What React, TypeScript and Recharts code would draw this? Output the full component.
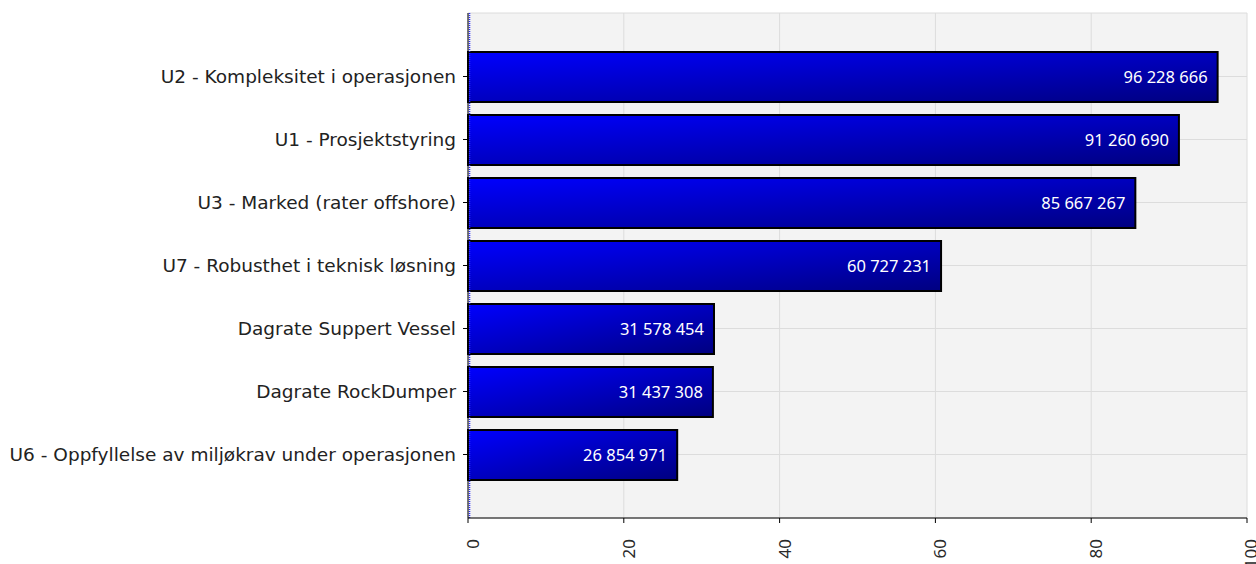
import {
  Bar,
  BarChart,
  CartesianGrid,
  LabelList,
  ReferenceLine,
  XAxis,
  YAxis,
} from "recharts";

// Risk drivers, largest first, with their contribution (NOK)
const categories = [
  "U2 - Kompleksitet i operasjonen",
  "U1 - Prosjektstyring",
  "U3 - Marked (rater offshore)",
  "U7 - Robusthet i teknisk løsning",
  "Dagrate Suppert Vessel",
  "Dagrate RockDumper",
  "U6 - Oppfyllelse av miljøkrav under operasjonen",
];
const values = [96228666, 91260690, 85667267, 60727231, 31578454, 31437308, 26854971];
const xTicks = [0, 20, 40, 60, 80, 100];

const data = categories.map((name, i) => ({
  name,
  raw: values[i],
  mill: values[i] / 1e6,
}));

const formatNok = (v: number) =>
  String(Math.round(v)).replace(/\B(?=(\d{3})+(?!\d))/g, " ");

const LABEL_FONT = "'DejaVu Sans', Verdana, sans-serif";
const VALUE_FONT = "'Noto Sans', Tahoma, sans-serif";

export default function App() {
  return (
    <div style={{ position: "absolute", left: 0, top: 0, background: "#fff" }}>
      <BarChart
        width={1256}
        height={564}
        data={data}
        layout="vertical"
        margin={{ top: 13, right: 9, bottom: 0, left: 0 }}
        barCategoryGap={0}
      >
        <defs>
          <linearGradient id="bar-blue" x1="0" y1="0" x2="1" y2="1">
            <stop offset="0%" stopColor="#0000ff" />
            <stop offset="100%" stopColor="#000080" />
          </linearGradient>
        </defs>
        <CartesianGrid stroke="#dcdcdc" fill="#f3f3f3" />
        <XAxis
          type="number"
          domain={[0, 100]}
          ticks={xTicks}
          height={46}
          stroke="#000"
          tickSize={5}
          angle={-90}
          textAnchor="end"
          tick={{ fontSize: 17, fill: "#2a2a2a", fontFamily: VALUE_FONT, dy: 14, dx: -1 }}
        />
        <YAxis
          type="category"
          dataKey="name"
          width={468}
          stroke="#000"
          tickSize={5}
          tickMargin={7}
          padding={{ top: 32, bottom: 32 }}
          tick={{ fontSize: 18.5, fill: "#222", fontFamily: LABEL_FONT }}
        />
        <ReferenceLine x={0.2} stroke="#2a2aff" strokeWidth={1.5} strokeDasharray="1 1" />
        <Bar
          dataKey="mill"
          barSize={50}
          fill="url(#bar-blue)"
          stroke="#000"
          strokeWidth={2}
          isAnimationActive={false}
        >
          <LabelList
            dataKey="raw"
            position="insideRight"
            offset={10}
            fill="#fff"
            fontSize={16.5}
            fontFamily={VALUE_FONT}
            formatter={(v: number) => formatNok(v)}
          />
        </Bar>
      </BarChart>
    </div>
  );
}
